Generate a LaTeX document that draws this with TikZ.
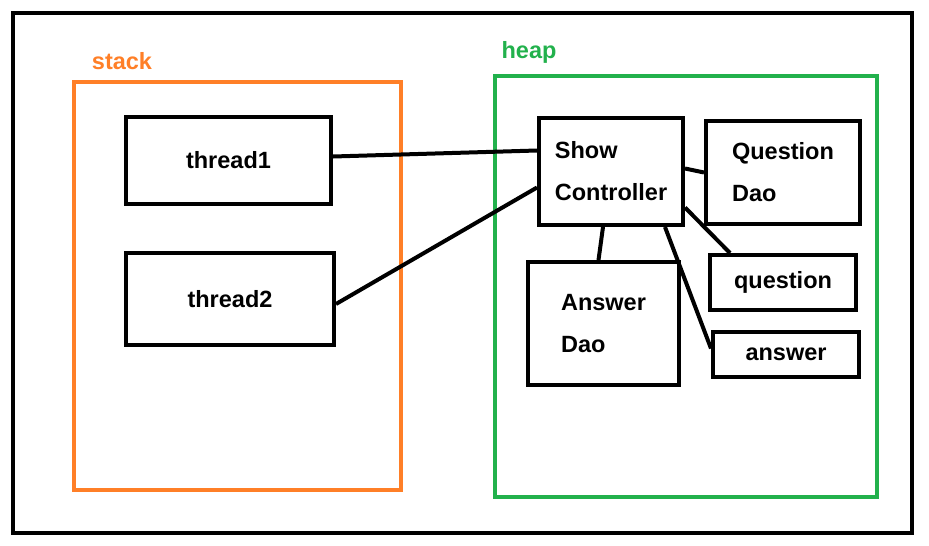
\documentclass[tikz,border=0pt]{standalone}
\usepackage{fontspec}
\setmainfont{Liberation Sans}
\definecolor{paintorange}{RGB}{255,127,39}
\definecolor{paintgreen}{RGB}{34,177,76}
\tikzset{
  objbox/.style={draw, line width=4pt, rectangle, align=left,
    font=\bfseries\fontsize{23.5}{42}\selectfont},
  area/.style={line width=4pt},
  link/.style={line width=4pt},
  arealabel/.style={font=\bfseries\fontsize{23.5}{28}\selectfont}
}
\begin{document}
\begin{tikzpicture}[x=1pt,y=-1pt]
      \useasboundingbox (0,0) rectangle (929,546);
      \draw[line width=4pt] (13,13) rectangle (912,533);
      \draw[area, paintorange] (74,82) rectangle (401,490);
      \draw[area, paintgreen] (495,76) rectangle (877,497);
      \draw
        (122,61) node[arealabel, text=paintorange] (stack){stack}
        (529,52) node[arealabel, text=paintgreen] (heap){heap};
      \draw
        (228.5,160.5) node[objbox, minimum width=205pt, minimum height=87pt] (thread1){thread1}
        (230,299) node[objbox, minimum width=208pt, minimum height=92pt] (thread2){thread2}
        (611,171.5) node[objbox, minimum width=144pt, minimum height=107pt] (show){Show\\Controller}
        (783,172.5) node[objbox, minimum width=154pt, minimum height=103pt] (qdao){Question\\Dao}
        (783,282.5) node[objbox, minimum width=146pt, minimum height=55pt] (question){question}
        (786,354.5) node[objbox, minimum width=146pt, minimum height=45pt] (answer){answer}
        (603.5,323.5) node[objbox, minimum width=151pt, minimum height=123pt] (adao){Answer\\Dao};
      \begin{scope}[link]
        \draw ([yshift=4pt]thread1.east) to ([yshift=21pt]show.west);
        \draw ([yshift=-5pt]thread2.east) to ([yshift=-16pt]show.west);
        \draw ([yshift=3pt]show.east) to (qdao.west);
        \draw ([xshift=-8pt]show.south) to ([xshift=-5pt]adao.north);
        \draw ([yshift=-36pt]show.east) to ([xshift=-53pt]question.north);
        \draw ([xshift=54pt]show.south) to ([yshift=6pt]answer.west);
      \end{scope}
    \end{tikzpicture}
\end{document}
